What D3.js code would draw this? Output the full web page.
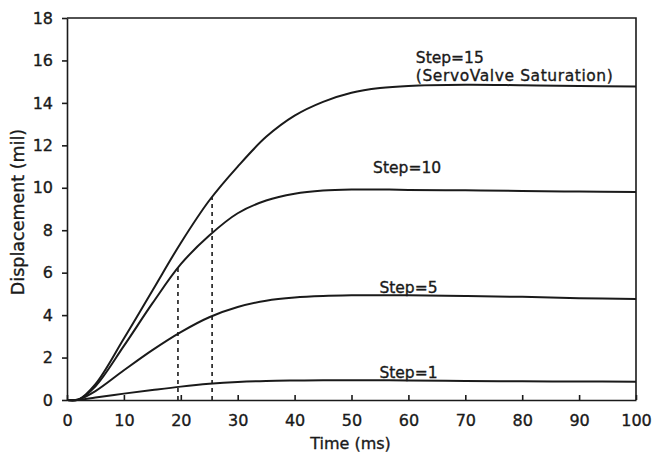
<!DOCTYPE html>
<html>
<head>
<meta charset="utf-8">
<script src="https://cdn.jsdelivr.net/npm/d3@7"></script>
<style>
	body { margin: 0; background: #fff; }
	text { font-family: "DejaVu Sans", sans-serif; fill: #1a1a1a; stroke: #1a1a1a; stroke-width: 0.35px; }
</style>
</head>
<body>
<div id="chart"></div>
<script>
var width = 653;
var height = 459;

// time grid (ms) shared by all curves
var time = [0, 2, 5, 10, 15, 20, 25, 30, 35, 40, 45, 50, 55, 60, 70, 80, 90, 100];

// displacement (mil) per step size
var step15 = [0, 0.02, 0.75, 2.9, 5.15, 7.4, 9.4, 11.0, 12.4, 13.4, 14.05, 14.48, 14.7, 14.8, 14.85, 14.83, 14.8, 14.77];
var step10 = [0, 0.02, 0.65, 2.55, 4.55, 6.4, 7.75, 8.8, 9.4, 9.72, 9.87, 9.92, 9.92, 9.9, 9.88, 9.85, 9.82, 9.8];
var step5  = [0, 0.02, 0.42, 1.4, 2.35, 3.2, 3.9, 4.38, 4.68, 4.83, 4.9, 4.93, 4.94, 4.93, 4.9, 4.86, 4.8, 4.76];
var step1  = [0, 0.01, 0.12, 0.3, 0.47, 0.63, 0.76, 0.85, 0.9, 0.92, 0.93, 0.93, 0.93, 0.92, 0.9, 0.88, 0.87, 0.86];

var seriesNames = ["Step=15", "Step=10", "Step=5", "Step=1"];

// dashed drop lines
var dashTimes = [19.5, 25.5];
var dashTops = [6.3, 9.55];

var xTicks = [0, 10, 20, 30, 40, 50, 60, 70, 80, 90, 100];
var yTicks = [0, 2, 4, 6, 8, 10, 12, 14, 16, 18];

var pl = 67, pr = 636, pt = 18, pb = 400; // plot box

var svg = d3.select("#chart").append("svg")
	.attr("width", width)
	.attr("height", height);

var x = d3.scaleLinear().domain([0, 100]).range([pl, pr]);
var y = d3.scaleLinear().domain([0, 18]).range([pb, pt]);

// frame (top + right)
svg.append("path")
	.attr("d", "M" + pl + "," + pt + "H" + pr + "V" + pb)
	.attr("fill", "none")
	.attr("stroke", "#1a1a1a")
	.attr("stroke-width", 1.6);

var xAxis = svg.append("g")
	.attr("transform", "translate(0," + pb + ")")
	.call(d3.axisBottom(x).tickValues(xTicks).tickSizeInner(-5).tickSizeOuter(0).tickPadding(15));

var yAxis = svg.append("g")
	.attr("transform", "translate(" + pl + ",0)")
	.call(d3.axisLeft(y).tickValues(yTicks).tickSizeInner(5).tickSizeOuter(0).tickPadding(9));

[xAxis, yAxis].forEach(function (a) {
	a.selectAll("path, line").attr("stroke", "#1a1a1a").attr("stroke-width", 1.6);
	a.selectAll("text").attr("font-size", "16px").attr("fill", "#1a1a1a")
		.attr("font-family", "DejaVu Sans, sans-serif");
});

// axis titles
svg.append("text")
	.attr("x", (pl + pr) / 2 - 1)
	.attr("y", 449)
	.attr("text-anchor", "middle")
	.attr("font-size", "16px")
	.text("Time (ms)");

svg.append("text")
	.attr("transform", "translate(24," + 212 + ") rotate(-90)")
	.attr("text-anchor", "middle")
	.attr("font-size", "17.5px")
	.text("Displacement (mil)");

var line = d3.line()
	.x(function (d) { return x(d[0]); })
	.y(function (d) { return y(d[1]); })
	.curve(d3.curveCatmullRom.alpha(0.5));

[step15, step10, step5, step1].forEach(function (s) {
	svg.append("path")
		.datum(time.map(function (t, i) { return [t, s[i]]; }))
		.attr("d", line)
		.attr("fill", "none")
		.attr("stroke", "#1a1a1a")
		.attr("stroke-width", 2);
});

// dashed verticals
svg.selectAll(".drop").data(dashTimes)
	.enter().append("line")
	.attr("class", "drop")
	.attr("x1", function (d) { return x(d); })
	.attr("x2", function (d) { return x(d); })
	.attr("y1", y(0))
	.attr("y2", function (d, i) { return y(dashTops[i]); })
	.attr("stroke", "#1a1a1a")
	.attr("stroke-width", 1.6)
	.attr("stroke-dasharray", "4,4");

// curve labels
var labelX = [61.3, 53.8, 54.9, 54.9];
var labelY = [15.9, 10.7, 5.05, 1.05];
seriesNames.forEach(function (n, i) {
	svg.append("text")
		.attr("x", x(labelX[i]))
		.attr("y", y(labelY[i]))
		.attr("font-size", "15.5px")
		.text(n);
});
svg.append("text")
	.attr("x", x(61.3))
	.attr("y", y(15.05))
	.attr("font-size", "15.5px")
	.attr("textLength", 197)
	.text("(ServoValve Saturation)");
</script>
</body>
</html>
